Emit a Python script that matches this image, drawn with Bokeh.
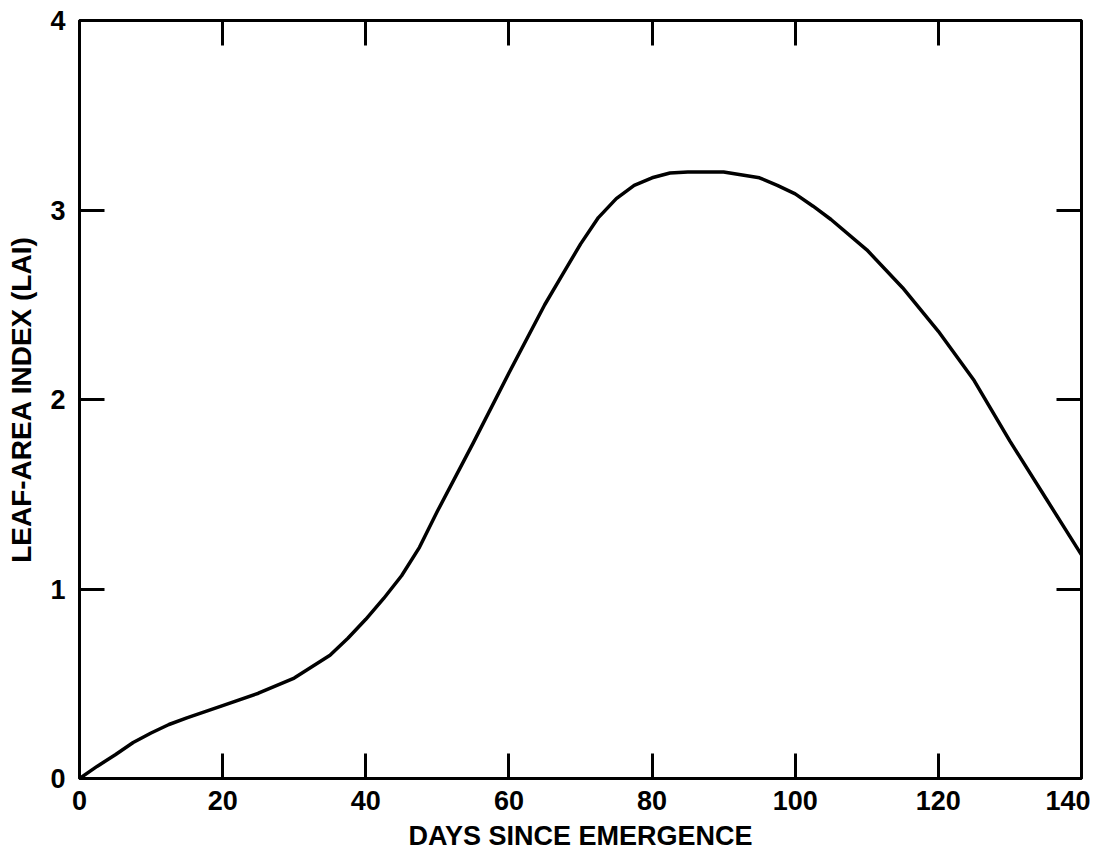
from bokeh.plotting import figure
from bokeh.models import LinearAxis, FixedTicker, Range1d, CustomLabelingPolicy
from bokeh.embed import file_html
from bokeh.resources import INLINE

days = [0, 2.5, 5, 7.5, 10, 12.5, 15, 20, 25, 30, 35, 37.5, 40, 42.5, 45, 47.5,
        50, 55, 60, 65, 67.5, 70, 72.5, 75, 77.5, 80, 82.5, 85, 90, 95, 97.5,
        100, 102.5, 105, 110, 115, 120, 125, 130, 135, 140]
lai = [0.0, 0.065, 0.125, 0.19, 0.24, 0.285, 0.32, 0.385, 0.45, 0.53, 0.65,
       0.74, 0.84, 0.95, 1.07, 1.22, 1.41, 1.77, 2.14, 2.50, 2.66, 2.82, 2.96,
       3.06, 3.13, 3.17, 3.195, 3.20, 3.20, 3.17, 3.13, 3.085, 3.02, 2.95,
       2.79, 2.59, 2.36, 2.10, 1.78, 1.48, 1.18]
x_ticks = [0, 20, 40, 60, 80, 100, 120, 140]
y_ticks = [0, 1, 2, 3, 4]
x_title = "DAYS SINCE EMERGENCE"
y_title = "LEAF-AREA INDEX (LAI)"

FONT = "Liberation Sans"

p = figure(width=1090, height=855, output_backend="svg", toolbar_location=None,
           x_range=Range1d(0, 140), y_range=Range1d(0, 4),
           min_border_left=79, min_border_right=9, min_border_top=20,
           min_border_bottom=77, background_fill_color="white",
           border_fill_color="white")
p.grid.visible = False
p.outline_line_color = "black"
p.outline_line_width = 3

p.line(days, lai, line_color="black", line_width=3.5, line_join="round")

hide_all = CustomLabelingPolicy(code="""
    for (const i of [...indices.ones()]) { indices.unset(i) }
    return indices
""")


def style(ax, ticks, labels=True):
    ax.ticker = FixedTicker(ticks=ticks)
    ax.minor_tick_line_color = None
    ax.major_tick_in = 25
    ax.major_tick_out = 0
    ax.major_tick_line_width = 3
    ax.major_tick_line_color = "black"
    ax.axis_line_color = None
    if labels:
        ax.major_label_text_font = FONT
        ax.major_label_text_font_size = "27px"
        ax.major_label_text_font_style = "bold"
        ax.major_label_text_color = "black"
        ax.axis_label_text_font = FONT
        ax.axis_label_text_font_style = "bold"
        ax.axis_label_text_color = "black"
    else:
        ax.major_label_policy = hide_all
        ax.major_label_standoff = 0


style(p.xaxis[0], x_ticks)
style(p.yaxis[0], y_ticks)
p.xaxis[0].axis_label = x_title
p.yaxis[0].axis_label = y_title
p.xaxis[0].axis_label_text_font_size = "27px"
p.yaxis[0].axis_label_text_font_size = "28px"
p.xaxis[0].major_label_standoff = 12
p.yaxis[0].major_label_standoff = 14
p.xaxis[0].axis_label_standoff = 8
p.yaxis[0].axis_label_standoff = 10

top = LinearAxis()
style(top, x_ticks, labels=False)
p.add_layout(top, "above")
right = LinearAxis()
style(right, y_ticks, labels=False)
p.add_layout(right, "right")

open("out.html", "w").write(file_html(p, INLINE))
